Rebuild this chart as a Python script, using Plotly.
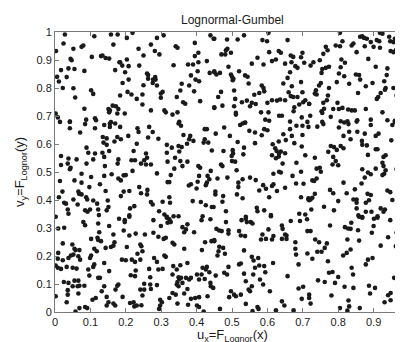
import plotly.graph_objects as go

# Points (u, v), grouped by region of the unit square
pts_top_left = [(0.028,0.991),(0.111,0.985),(0.158,0.991),(0.177,0.991),(0.024,0.959),(0.003,0.932),(0.052,0.940),(0.075,0.947),(0.080,0.952),(0.165,0.955),(0.044,0.904),(0.047,0.899),(0.104,0.911),(0.130,0.914),(0.134,0.916),(0.143,0.907),(0.153,0.905),(0.017,0.864),(0.038,0.870),(0.055,0.868),(0.083,0.861),(0.170,0.864),(0.182,0.892),(0.006,0.840),(0.033,0.839),(0.011,0.823),(0.022,0.800),(0.052,0.799),(0.102,0.792),(0.108,0.779),(0.057,0.766),(0.083,0.726),(0.151,0.725),(0.155,0.720),(0.153,0.713),(0.163,0.737),(0.172,0.735),(0.179,0.725),(0.176,0.709),(0.002,0.709),(0.008,0.695),(0.042,0.680),(0.088,0.687),(0.113,0.692),(0.116,0.685),(0.158,0.678)]

pts_top_midleft = [(0.203,0.979),(0.219,0.997),(0.288,0.979),(0.307,0.988),(0.439,0.988),(0.448,0.976),(0.236,0.940),(0.271,0.955),(0.282,0.932),(0.295,0.920),(0.341,0.949),(0.346,0.944),(0.395,0.961),(0.250,0.916),(0.395,0.914),(0.405,0.926),(0.184,0.892),(0.190,0.880),(0.203,0.902),(0.208,0.878),(0.238,0.880),(0.335,0.881),(0.376,0.884),(0.390,0.884),(0.405,0.892),(0.429,0.896),(0.198,0.856),(0.260,0.852),(0.263,0.846),(0.283,0.839),(0.284,0.830),(0.277,0.830),(0.263,0.833),(0.276,0.818),(0.288,0.809),(0.384,0.845),(0.403,0.860),(0.397,0.830),(0.407,0.824),(0.437,0.854),(0.450,0.860),(0.191,0.818),(0.208,0.830),(0.250,0.810),(0.358,0.815),(0.379,0.809),(0.354,0.791),(0.393,0.788),(0.205,0.786),(0.216,0.777),(0.184,0.773),(0.247,0.777),(0.299,0.780),(0.304,0.786),(0.299,0.765),(0.231,0.761),(0.344,0.768),(0.362,0.749),(0.368,0.744),(0.410,0.753),(0.247,0.741),(0.450,0.731),(0.197,0.709),(0.271,0.720),(0.309,0.720),(0.313,0.713),(0.332,0.705),(0.346,0.713),(0.351,0.679)]

pts_top_midright = [(0.450,0.976),(0.486,0.973),(0.516,0.973),(0.534,0.988),(0.603,0.997),(0.586,0.971),(0.599,0.967),(0.657,0.971),(0.487,0.940),(0.483,0.935),(0.470,0.920),(0.481,0.920),(0.497,0.926),(0.572,0.908),(0.556,0.887),(0.589,0.884),(0.605,0.928),(0.613,0.896),(0.624,0.902),(0.632,0.932),(0.638,0.926),(0.650,0.887),(0.666,0.916),(0.673,0.911),(0.695,0.910),(0.699,0.926),(0.668,0.892),(0.679,0.878),(0.685,0.872),(0.704,0.890),(0.490,0.876),(0.520,0.860),(0.450,0.856),(0.456,0.848),(0.466,0.854),(0.497,0.848),(0.500,0.840),(0.504,0.833),(0.502,0.828),(0.537,0.845),(0.544,0.840),(0.664,0.856),(0.657,0.836),(0.645,0.816),(0.547,0.816),(0.584,0.809),(0.589,0.800),(0.669,0.806),(0.695,0.821),(0.469,0.786),(0.461,0.768),(0.506,0.791),(0.577,0.782),(0.591,0.788),(0.563,0.776),(0.660,0.785),(0.666,0.771),(0.673,0.768),(0.685,0.768),(0.699,0.785),(0.707,0.756),(0.701,0.749),(0.718,0.743),(0.450,0.729),(0.473,0.737),(0.509,0.761),(0.506,0.735),(0.528,0.749),(0.542,0.755),(0.551,0.735),(0.556,0.747),(0.567,0.743),(0.600,0.747),(0.613,0.756),(0.627,0.755),(0.636,0.759),(0.650,0.756),(0.676,0.731),(0.690,0.741),(0.511,0.711),(0.511,0.705),(0.582,0.713),(0.603,0.713),(0.633,0.701),(0.641,0.701),(0.674,0.717),(0.697,0.695),(0.594,0.687),(0.605,0.683),(0.537,0.677),(0.664,0.680),(0.713,0.679)]

pts_top_right = [(0.805,0.997),(0.918,0.997),(0.925,0.994),(0.862,0.983),(0.868,0.985),(0.873,0.979),(0.881,0.976),(0.909,0.971),(0.916,0.967),(0.892,0.964),(0.944,0.983),(0.960,0.976),(0.969,0.985),(0.947,0.967),(0.956,0.964),(0.965,0.971),(0.975,0.964),(0.980,0.959),(0.994,0.979),(0.812,0.967),(0.793,0.952),(0.805,0.949),(0.765,0.947),(0.770,0.935),(0.838,0.952),(0.843,0.959),(0.875,0.949),(0.900,0.947),(0.918,0.944),(0.852,0.928),(0.975,0.947),(0.991,0.947),(0.994,0.940),(0.948,0.932),(0.956,0.928),(0.963,0.935),(0.758,0.922),(0.748,0.899),(0.730,0.892),(0.722,0.880),(0.809,0.902),(0.819,0.890),(0.885,0.904),(0.977,0.911),(0.986,0.914),(0.994,0.892),(0.988,0.884),(0.975,0.868),(0.774,0.876),(0.765,0.872),(0.755,0.868),(0.807,0.874),(0.753,0.854),(0.906,0.876),(0.939,0.870),(0.937,0.846),(0.802,0.852),(0.817,0.842),(0.850,0.848),(0.859,0.846),(0.862,0.830),(0.751,0.818),(0.746,0.809),(0.796,0.821),(0.831,0.815),(0.878,0.806),(0.897,0.818),(0.930,0.824),(0.967,0.812),(0.977,0.827),(0.984,0.828),(0.737,0.792),(0.734,0.780),(0.774,0.800),(0.739,0.777),(0.771,0.773),(0.856,0.782),(0.920,0.782),(0.934,0.800),(0.932,0.794),(0.956,0.800),(0.965,0.773),(0.909,0.761),(0.913,0.768),(0.718,0.744),(0.758,0.747),(0.768,0.756),(0.798,0.747),(0.753,0.717),(0.755,0.711),(0.760,0.726),(0.786,0.725),(0.802,0.725),(0.812,0.729),(0.828,0.723),(0.838,0.720),(0.847,0.720),(0.721,0.701),(0.779,0.697),(0.878,0.725),(0.925,0.713),(0.991,0.705),(0.755,0.679),(0.807,0.681),(0.826,0.681),(0.854,0.685),(0.892,0.687),(0.939,0.685),(0.960,0.683)]

pts_mid_left = [(0.014,0.679),(0.042,0.679),(0.042,0.656),(0.085,0.671),(0.113,0.656),(0.139,0.668),(0.155,0.673),(0.155,0.661),(0.170,0.673),(0.071,0.641),(0.135,0.625),(0.146,0.620),(0.146,0.597),(0.137,0.605),(0.168,0.609),(0.176,0.625),(0.089,0.587),(0.094,0.569),(0.113,0.566),(0.134,0.569),(0.139,0.554),(0.153,0.575),(0.017,0.557),(0.038,0.548),(0.061,0.545),(0.108,0.545),(0.036,0.530),(0.044,0.515),(0.042,0.510),(0.089,0.530),(0.141,0.521),(0.017,0.525),(0.177,0.530),(0.075,0.494),(0.102,0.482),(0.139,0.486),(0.160,0.492),(0.014,0.468),(0.055,0.470),(0.075,0.462),(0.097,0.446),(0.127,0.456),(0.179,0.477),(0.021,0.430),(0.011,0.410),(0.066,0.430),(0.068,0.422),(0.075,0.420),(0.052,0.402),(0.088,0.410),(0.091,0.402),(0.108,0.398),(0.143,0.432),(0.149,0.398),(0.026,0.390),(0.031,0.387),(0.036,0.366),(0.038,0.351),(0.064,0.384),(0.099,0.366),(0.119,0.387),(0.122,0.366),(0.146,0.363),(0.151,0.375),(0.085,0.363),(0.092,0.358),(0.002,0.340),(0.124,0.346)]

pts_mid_midleft = [(0.184,0.661),(0.233,0.656),(0.236,0.643),(0.266,0.661),(0.276,0.643),(0.349,0.673),(0.356,0.665),(0.423,0.653),(0.429,0.653),(0.186,0.617),(0.207,0.629),(0.263,0.623),(0.292,0.619),(0.363,0.632),(0.382,0.629),(0.379,0.617),(0.391,0.611),(0.373,0.601),(0.420,0.605),(0.423,0.617),(0.433,0.605),(0.231,0.601),(0.316,0.597),(0.330,0.587),(0.349,0.593),(0.358,0.589),(0.222,0.575),(0.316,0.569),(0.351,0.573),(0.339,0.551),(0.354,0.539),(0.443,0.577),(0.179,0.545),(0.216,0.542),(0.226,0.542),(0.257,0.566),(0.260,0.551),(0.252,0.542),(0.243,0.530),(0.257,0.527),(0.271,0.527),(0.318,0.537),(0.374,0.537),(0.360,0.521),(0.337,0.512),(0.405,0.521),(0.410,0.515),(0.440,0.504),(0.219,0.504),(0.288,0.495),(0.327,0.489),(0.194,0.488),(0.200,0.489),(0.186,0.470),(0.318,0.464),(0.323,0.464),(0.384,0.456),(0.378,0.452),(0.403,0.465),(0.407,0.486),(0.431,0.486),(0.436,0.474),(0.429,0.462),(0.426,0.453),(0.400,0.441),(0.238,0.446),(0.261,0.436),(0.194,0.430),(0.210,0.432),(0.243,0.424),(0.260,0.420),(0.186,0.414),(0.323,0.410),(0.224,0.378),(0.212,0.370),(0.271,0.393),(0.276,0.384),(0.304,0.394),(0.325,0.390),(0.389,0.396),(0.412,0.393),(0.426,0.381),(0.443,0.375),(0.210,0.345),(0.294,0.360),(0.309,0.348),(0.316,0.340),(0.335,0.342),(0.349,0.342),(0.417,0.342)]

pts_mid_midright = [(0.478,0.659),(0.523,0.668),(0.530,0.673),(0.537,0.676),(0.549,0.647),(0.565,0.641),(0.591,0.653),(0.600,0.649),(0.584,0.631),(0.454,0.637),(0.494,0.629),(0.645,0.635),(0.664,0.653),(0.682,0.665),(0.699,0.665),(0.716,0.661),(0.669,0.629),(0.699,0.632),(0.516,0.607),(0.565,0.603),(0.615,0.599),(0.632,0.609),(0.652,0.614),(0.676,0.603),(0.697,0.591),(0.534,0.587),(0.476,0.575),(0.502,0.578),(0.503,0.566),(0.499,0.557),(0.532,0.563),(0.622,0.585),(0.626,0.575),(0.613,0.560),(0.624,0.549),(0.633,0.566),(0.638,0.573),(0.650,0.567),(0.632,0.555),(0.707,0.560),(0.500,0.539),(0.509,0.537),(0.513,0.506),(0.469,0.527),(0.473,0.521),(0.643,0.530),(0.682,0.533),(0.617,0.494),(0.633,0.501),(0.638,0.498),(0.671,0.486),(0.695,0.501),(0.459,0.477),(0.487,0.480),(0.530,0.474),(0.551,0.480),(0.567,0.471),(0.518,0.462),(0.518,0.446),(0.588,0.453),(0.596,0.440),(0.617,0.456),(0.613,0.450),(0.577,0.434),(0.627,0.432),(0.650,0.444),(0.681,0.459),(0.702,0.458),(0.453,0.430),(0.453,0.420),(0.475,0.414),(0.514,0.420),(0.530,0.406),(0.473,0.394),(0.605,0.410),(0.695,0.410),(0.716,0.402),(0.448,0.375),(0.483,0.360),(0.570,0.372),(0.572,0.360),(0.591,0.363),(0.539,0.340),(0.610,0.346),(0.690,0.351),(0.707,0.348)]

pts_mid_right = [(0.741,0.662),(0.758,0.671),(0.802,0.659),(0.817,0.677),(0.829,0.671),(0.852,0.680),(0.892,0.668),(0.953,0.668),(0.960,0.679),(0.815,0.629),(0.831,0.644),(0.854,0.644),(0.875,0.637),(0.914,0.637),(0.906,0.629),(0.867,0.611),(0.868,0.597),(0.881,0.595),(0.835,0.617),(0.950,0.613),(0.972,0.635),(0.981,0.647),(0.994,0.647),(0.779,0.593),(0.788,0.589),(0.807,0.593),(0.815,0.585),(0.796,0.579),(0.772,0.572),(0.988,0.597),(0.906,0.581),(0.911,0.581),(0.884,0.561),(0.934,0.560),(0.928,0.554),(0.734,0.551),(0.786,0.554),(0.793,0.539),(0.784,0.527),(0.800,0.524),(0.925,0.533),(0.928,0.521),(0.986,0.519),(0.739,0.512),(0.748,0.515),(0.751,0.501),(0.868,0.510),(0.884,0.498),(0.892,0.492),(0.906,0.512),(0.934,0.506),(0.930,0.494),(0.925,0.489),(0.965,0.510),(0.727,0.470),(0.739,0.477),(0.732,0.468),(0.875,0.480),(0.815,0.462),(0.866,0.459),(0.847,0.438),(0.777,0.436),(0.786,0.424),(0.824,0.424),(0.883,0.422),(0.892,0.418),(0.939,0.434),(0.947,0.428),(0.986,0.438),(0.734,0.422),(0.727,0.408),(0.722,0.402),(0.716,0.406),(0.718,0.399),(0.800,0.396),(0.843,0.402),(0.852,0.402),(0.852,0.390),(0.878,0.390),(0.887,0.399),(0.953,0.400),(0.996,0.384),(0.760,0.376),(0.724,0.366),(0.788,0.363),(0.852,0.370),(0.878,0.358),(0.894,0.358),(0.920,0.370),(0.932,0.366),(0.928,0.358),(0.857,0.345),(0.868,0.339),(0.911,0.342),(0.980,0.339)]

pts_low_left = [(0.080,0.321),(0.085,0.310),(0.122,0.316),(0.153,0.307),(0.009,0.298),(0.026,0.301),(0.125,0.285),(0.120,0.265),(0.122,0.257),(0.130,0.253),(0.165,0.277),(0.168,0.249),(0.158,0.232),(0.165,0.237),(0.102,0.261),(0.022,0.245),(0.049,0.241),(0.055,0.226),(0.058,0.221),(0.069,0.221),(0.111,0.226),(0.118,0.217),(0.143,0.229),(0.009,0.211),(0.008,0.190),(0.022,0.185),(0.038,0.193),(0.045,0.202),(0.052,0.205),(0.066,0.199),(0.071,0.187),(0.102,0.202),(0.099,0.193),(0.002,0.166),(0.008,0.158),(0.017,0.154),(0.033,0.161),(0.050,0.158),(0.061,0.155),(0.094,0.152),(0.111,0.170),(0.108,0.161),(0.139,0.175),(0.153,0.146),(0.097,0.130),(0.122,0.122),(0.127,0.122),(0.025,0.107),(0.038,0.104),(0.050,0.092),(0.055,0.112),(0.066,0.112),(0.064,0.092),(0.069,0.094),(0.083,0.094),(0.139,0.092),(0.176,0.094),(0.171,0.080),(0.036,0.078),(0.036,0.062),(0.066,0.066),(0.002,0.056),(0.115,0.050),(0.106,0.044),(0.146,0.054),(0.033,0.035),(0.132,0.074),(0.151,0.035),(0.165,0.030),(0.170,0.023),(0.146,0.023),(0.069,0.014),(0.085,0.018),(0.091,0.014),(0.058,0.002)]

pts_low_midleft = [(0.181,0.333),(0.197,0.328),(0.197,0.321),(0.210,0.340),(0.278,0.328),(0.316,0.337),(0.323,0.331),(0.318,0.319),(0.327,0.321),(0.299,0.307),(0.360,0.303),(0.374,0.313),(0.414,0.328),(0.439,0.331),(0.194,0.291),(0.210,0.273),(0.228,0.280),(0.254,0.277),(0.278,0.283),(0.292,0.269),(0.307,0.261),(0.313,0.265),(0.332,0.247),(0.337,0.241),(0.365,0.285),(0.370,0.295),(0.393,0.285),(0.424,0.249),(0.442,0.253),(0.450,0.257),(0.203,0.232),(0.241,0.241),(0.244,0.235),(0.247,0.217),(0.233,0.208),(0.365,0.226),(0.415,0.221),(0.189,0.187),(0.200,0.185),(0.217,0.187),(0.226,0.179),(0.241,0.187),(0.280,0.193),(0.288,0.179),(0.309,0.202),(0.313,0.197),(0.266,0.154),(0.292,0.152),(0.304,0.154),(0.334,0.164),(0.344,0.152),(0.354,0.167),(0.374,0.175),(0.228,0.148),(0.214,0.131),(0.226,0.128),(0.269,0.124),(0.349,0.124),(0.351,0.118),(0.356,0.122),(0.332,0.134),(0.346,0.107),(0.344,0.098),(0.349,0.092),(0.370,0.122),(0.379,0.116),(0.384,0.122),(0.401,0.134),(0.417,0.158),(0.429,0.161),(0.426,0.152),(0.414,0.134),(0.436,0.142),(0.179,0.098),(0.252,0.101),(0.269,0.098),(0.288,0.096),(0.360,0.104),(0.374,0.082),(0.407,0.116),(0.423,0.118),(0.439,0.104),(0.440,0.092),(0.241,0.080),(0.252,0.080),(0.271,0.082),(0.365,0.066),(0.191,0.054),(0.247,0.059),(0.332,0.068),(0.341,0.062),(0.323,0.050),(0.297,0.044),(0.302,0.035),(0.384,0.047),(0.396,0.050),(0.407,0.053),(0.431,0.056),(0.222,0.035),(0.212,0.032),(0.224,0.020),(0.231,0.023),(0.244,0.024),(0.297,0.023),(0.294,0.011),(0.346,0.030),(0.376,0.026),(0.401,0.023),(0.407,0.018),(0.420,0.002)]

pts_low_midright = [(0.483,0.321),(0.527,0.328),(0.539,0.333),(0.542,0.321),(0.553,0.321),(0.558,0.316),(0.610,0.342),(0.666,0.325),(0.692,0.325),(0.712,0.331),(0.641,0.309),(0.643,0.297),(0.456,0.297),(0.464,0.291),(0.471,0.289),(0.490,0.292),(0.490,0.280),(0.520,0.289),(0.525,0.273),(0.537,0.271),(0.586,0.277),(0.603,0.295),(0.596,0.261),(0.582,0.259),(0.613,0.259),(0.617,0.271),(0.641,0.261),(0.650,0.277),(0.654,0.273),(0.654,0.261),(0.679,0.249),(0.679,0.226),(0.713,0.289),(0.450,0.253),(0.464,0.233),(0.462,0.217),(0.459,0.202),(0.475,0.229),(0.480,0.208),(0.534,0.220),(0.681,0.205),(0.556,0.197),(0.561,0.184),(0.574,0.193),(0.520,0.170),(0.525,0.173),(0.490,0.161),(0.565,0.158),(0.577,0.166),(0.591,0.164),(0.616,0.175),(0.688,0.170),(0.594,0.142),(0.454,0.130),(0.478,0.140),(0.486,0.134),(0.534,0.137),(0.560,0.134),(0.579,0.116),(0.588,0.098),(0.657,0.128),(0.539,0.110),(0.556,0.092),(0.547,0.080),(0.551,0.074),(0.447,0.086),(0.497,0.074),(0.506,0.062),(0.511,0.056),(0.492,0.053),(0.525,0.062),(0.607,0.074),(0.688,0.084),(0.701,0.090),(0.718,0.062),(0.697,0.047),(0.641,0.038),(0.648,0.023),(0.539,0.029),(0.572,0.018),(0.575,0.011),(0.466,0.011),(0.558,0.003),(0.624,0.006),(0.674,0.006)]

pts_low_right = [(0.859,0.340),(0.868,0.337),(0.901,0.333),(0.911,0.337),(0.947,0.328),(0.981,0.337),(0.837,0.319),(0.777,0.309),(0.819,0.303),(0.828,0.298),(0.835,0.297),(0.856,0.292),(0.900,0.307),(0.980,0.292),(0.895,0.283),(0.965,0.283),(0.722,0.289),(0.941,0.267),(0.735,0.259),(0.746,0.249),(0.768,0.245),(0.762,0.229),(0.826,0.259),(0.859,0.255),(0.920,0.237),(0.963,0.235),(0.972,0.227),(0.998,0.229),(0.741,0.215),(0.753,0.215),(0.713,0.209),(0.814,0.202),(0.824,0.211),(0.835,0.223),(0.727,0.190),(0.771,0.181),(0.884,0.187),(0.897,0.193),(0.878,0.170),(0.981,0.179),(0.838,0.158),(0.996,0.161),(0.842,0.134),(0.774,0.140),(0.784,0.143),(0.800,0.125),(0.743,0.113),(0.762,0.107),(0.791,0.104),(0.958,0.122),(0.818,0.090),(0.843,0.086),(0.887,0.094),(0.904,0.086),(0.980,0.074),(0.890,0.066),(0.781,0.059),(0.718,0.050),(0.941,0.060),(0.948,0.068),(0.722,0.030),(0.829,0.041),(0.831,0.020),(0.805,0.014),(0.861,0.014),(0.931,0.035),(0.948,0.042),(0.969,0.011),(0.826,0.005)]

regions = [pts_top_left, pts_top_midleft, pts_top_midright, pts_top_right,
           pts_mid_left, pts_mid_midleft, pts_mid_midright, pts_mid_right,
           pts_low_left, pts_low_midleft, pts_low_midright, pts_low_right]

u_vals = [p[0] for r in regions for p in r]
v_vals = [p[1] for r in regions for p in r]

tick_vals = [0, 0.1, 0.2, 0.3, 0.4, 0.5, 0.6, 0.7, 0.8, 0.9, 1]
tick_text = ["0", "0.1", "0.2", "0.3", "0.4", "0.5", "0.6", "0.7", "0.8", "0.9", "1"]

FONT = "Liberation Sans, Arial, sans-serif"
INK = "#1a1a1a"

fig = go.Figure(go.Scatter(
    x=u_vals, y=v_vals, mode="markers",
    marker=dict(size=4.6, color=INK, line=dict(width=0)),
    cliponaxis=True, showlegend=False,
))

axis_common = dict(
    range=[0, 1], tickvals=tick_vals, ticktext=tick_text, automargin=False,
    showline=True, linecolor="#7a7a7a", linewidth=1, mirror="ticks",
    ticks="inside", ticklen=4, tickcolor="#7a7a7a", showgrid=False, zeroline=False,
    ticklabeloverflow="allow",
    tickfont=dict(family=FONT, size=11, color=INK),
)

fig.update_layout(
    width=403, height=342,
    margin=dict(l=47, r=2, t=24, b=38),
    paper_bgcolor="white", plot_bgcolor="white",
    xaxis=axis_common, yaxis=axis_common,
    annotations=[
        dict(text="Lognormal-Gumbel", xref="paper", yref="paper", x=0.5, y=1,
             xanchor="center", yanchor="middle", yshift=12, showarrow=False,
             font=dict(family=FONT, size=12, color=INK)),
        dict(text="u<sub>x</sub>=F<sub>Lognor</sub>(x)", xref="paper", yref="paper", x=0.5, y=0,
             xanchor="center", yanchor="middle", yshift=-23, showarrow=False,
             font=dict(family=FONT, size=13, color=INK)),
        dict(text="v<sub>y</sub>=F<sub>Lognor</sub>(y)", xref="paper", yref="paper", x=0, y=0.5,
             xanchor="center", yanchor="middle", xshift=-35, textangle=-90, showarrow=False,
             font=dict(family=FONT, size=13, color=INK)),
    ],
)

fig.write_html("out.html")
